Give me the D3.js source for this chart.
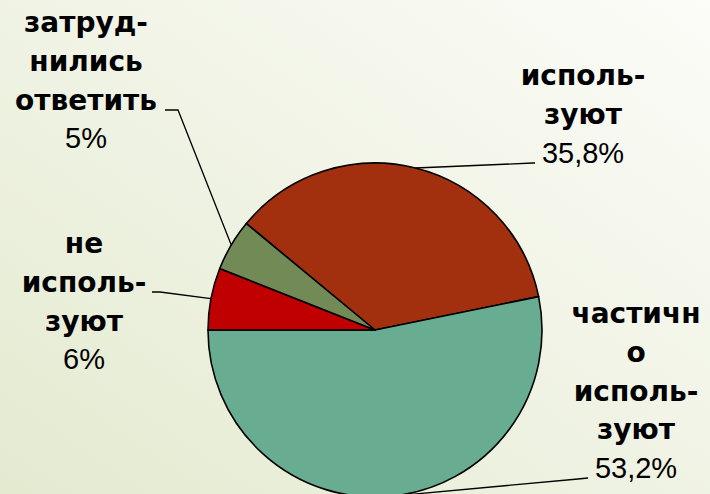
<!DOCTYPE html>
<html>
<head>
<meta charset="utf-8">
<script src="https://cdn.jsdelivr.net/npm/d3@7"></script>
<style>
  html, body { margin: 0; padding: 0; }
  body { width: 710px; height: 494px; overflow: hidden; }
</style>
</head>
<body>
<svg id="chart" width="710" height="494"></svg>
<script>
// ---- data ----
const categories = ["используют", "частично используют", "не используют", "затруднились ответить"];
const values = [35.8, 53.2, 6, 5];
const valueLabels = ["35,8%", "53,2%", "6%", "5%"];
const labelLines = [
  ["исполь-", "зуют"],
  ["частичн", "о", "исполь-", "зуют"],
  ["не", "исполь-", "зуют"],
  ["затруд-", "нились", "ответить"]
];
const colors = ["#A2300F", "#68AC92", "#C00000", "#718A56"];

// ---- layout ----
const W = 710, H = 494;
const cx = 375, cy = 330, R = 167;
const startDeg = -50.4;
const lineH = 38.8;
// label block: center x, first baseline y, leader elbow + end
const labelLayout = [
  { x: 583, y: 85,  elbow: [533, 163], end: [535, 163] },
  { x: 636, y: 323, elbow: [578, 479], end: [588, 478] },
  { x: 84,  y: 253, elbow: [160, 292], end: [152, 292] },
  { x: 86,  y: 32,  elbow: [178, 110], end: [165, 110] }
];

const svg = d3.select("#chart");
const defs = svg.append("defs");
const grad = defs.append("linearGradient").attr("id", "bg")
  .attr("x1", "0").attr("y1", "1").attr("x2", "1").attr("y2", "0");
grad.append("stop").attr("offset", "0%").attr("stop-color", "#e4ead0");
grad.append("stop").attr("offset", "55%").attr("stop-color", "#f1f4e6");
grad.append("stop").attr("offset", "100%").attr("stop-color", "#fcfcf8");
svg.append("rect").attr("width", W).attr("height", H).attr("fill", "url(#bg)");

const pie = d3.pie().sort(null).value(d => d)
  .startAngle(startDeg * Math.PI / 180)
  .endAngle(startDeg * Math.PI / 180 + 2 * Math.PI);
const arcs = pie(values);
const arc = d3.arc().innerRadius(0).outerRadius(R);

const g = svg.append("g").attr("transform", `translate(${cx},${cy})`);
g.selectAll("path.slice").data(arcs).enter().append("path")
  .attr("class", "slice")
  .attr("d", arc)
  .attr("fill", (d, i) => colors[i])
  .attr("stroke", "#000")
  .attr("stroke-width", 1.6)
  .attr("stroke-linejoin", "round");

// leader lines
const line = d3.line();
arcs.forEach((d, i) => {
  const a = (d.startAngle + d.endAngle) / 2;
  const p0 = [cx + R * Math.sin(a), cy - R * Math.cos(a)];
  const L = labelLayout[i];
  svg.append("path")
    .attr("d", line([p0, L.elbow, L.end]))
    .attr("fill", "none")
    .attr("stroke", "#000")
    .attr("stroke-width", 1.3);
});

// labels
arcs.forEach((d, i) => {
  const L = labelLayout[i];
  const t = svg.append("text")
    .attr("text-anchor", "middle")
    .attr("fill", "#000");
  labelLines[i].forEach((s, j) => {
    t.append("tspan")
      .attr("x", L.x)
      .attr("y", L.y + j * lineH)
      .attr("font-family", "DejaVu Sans")
      .attr("font-weight", "bold")
      .attr("font-size", 28)
      .text(s);
  });
  t.append("tspan")
    .attr("x", L.x)
    .attr("y", L.y + labelLines[i].length * lineH)
    .attr("font-family", "Liberation Sans, Arial")
    .attr("font-size", 29)
    .text(valueLabels[i]);
});
</script>
</body>
</html>
